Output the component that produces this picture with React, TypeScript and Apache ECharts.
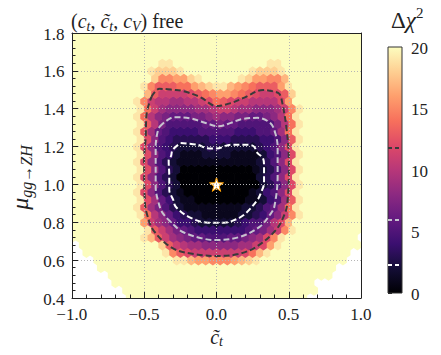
import React, { useEffect, useRef } from "react";
import * as echarts from "echarts";

// ---- data ------------------------------------------------------------------
// scan grid in c~_t (x) and mu_{gg->ZH} (y)
const ctStart = -1.0;
const ctStep = 0.05;
const ctCount = 41;
const muStart = 0.4;
const muStep = 0.04;
const muCount = 36;

// Delta chi^2 on the central columns c~_t = -0.60 ... 0.60 (25 columns),
// rows listed from mu = 1.80 (top) down to mu = 0.40 (bottom).
// 0-9 -> 0-9, a..k -> 10..20 (k = 20 or more). Cells outside the central columns are 20.
const dchi2RowsTopDown: string[] = [
  "kkkkk kkkkk kkkkk kkkkk kkkkk", // 1.80
  "kkkkk kkkkk kkkkk kkkkk kkkkk", // 1.76
  "kkkkk kkkkk kkkkk kkkkk kkkkk", // 1.72
  "kkkkk kkkkk kkkkk kkkkk kkkkk", // 1.68
  "kkkkj jkkkk kkkkk kkkkj jkkkk", // 1.64
  "kkkji iijkk kkkkk kkjii ijkkk", // 1.60
  "kkkif fggij kkkkk jiggf fhkkk", // 1.56
  "kkjfd ddeeg hijjh gfedd dgjkk", // 1.52
  "kkhdb bbbcd efggf edcbb cdikk", // 1.48
  "kjfba a99aa bcedc bbaaa acgkk", // 1.44
  "kjeb9 88889 9abba 99888 9bfjk", // 1.40
  "kjea8 76667 78988 77667 8aejk", // 1.36
  "kjda7 55555 66766 55555 7aejk", // 1.32
  "kjd96 54444 55555 44455 69ejk", // 1.28
  "kjc85 43333 34443 33344 58djk", // 1.24
  "kjc85 43222 23322 22234 58cjk", // 1.20
  "kjc85 42111 22221 11124 58cjk", // 1.16
  "kjc85 32111 11111 11123 58cjk", // 1.12
  "kjc85 32000 00000 00123 58cjk", // 1.08
  "kjc85 32000 00000 00023 58cjk", // 1.04
  "kjc85 32000 00000 00023 58cjk", // 1.00
  "kjc85 32100 00000 00124 58cjk", // 0.96
  "kjc96 42110 00000 01124 59djk", // 0.92
  "kjd97 53211 11111 12235 69ejk", // 0.88
  "kjea8 64322 11111 22346 8bfjk", // 0.84
  "kkgb9 86443 22222 34557 achkk", // 0.80
  "kkjdb 97654 44444 45679 bfjkk", // 0.76
  "kkjhd b9876 65556 6789c fjkkk", // 0.72
  "kkkki dba99 88888 99bcg jkkkk", // 0.68
  "kkkkk jfdcb bbbbb bcehj kkkkk", // 0.64
  "kkkkk kjjhg gfffg hijkk kkkkk", // 0.60
  "kkkkk kkkkk kkkkk kkkkk kkkkk", // 0.56
  "kkkkk kkkkk kkkkk kkkkk kkkkk", // 0.52
  "kkkkk kkkkk kkkkk kkkkk kkkkk", // 0.48
  "kkkkk kkkkk kkkkk kkkkk kkkkk", // 0.44
  "kkkkk kkkkk kkkkk kkkkk kkkkk", // 0.40
];
const centralFirstCol = 8; // column index of c~_t = -0.60

// cells without scan points (white corners), counted from the left / right edge,
// rows from mu = 0.40 upwards
const missingLeft = [8, 7, 6, 5, 4, 3, 2, 1];
const missingRight = [8, 7, 7, 5, 4, 3, 2, 1, 1];

// contour levels (1, 2, 3 sigma for 2 dof)
const levels = [2.3, 5.99, 11.83];
const contour1: number[][] = [
  [-0.248, 1.219], [-0.125, 1.208], [-0.069, 1.192], [0, 1.19], [0.1, 1.21], [0.195, 1.21],
  [0.255, 1.203], [0.284, 1.166], [0.322, 1.138], [0.329, 1.096], [0.329, 1.007], [0.31, 0.96],
  [0.284, 0.919], [0.188, 0.838], [0.1, 0.805], [0.054, 0.798], [-0.058, 0.798], [-0.193, 0.829],
  [-0.282, 0.882], [-0.3, 0.92], [-0.327, 0.971], [-0.327, 1.043], [-0.331, 1.129], [-0.315, 1.149],
  [-0.304, 1.182], [-0.248, 1.219],
];
const contour2: number[][] = [
  [-0.394, 1.305], [-0.349, 1.335], [-0.293, 1.355], [-0.181, 1.349], [-0.069, 1.323], [0.015, 1.307],
  [0.1, 1.325], [0.172, 1.344], [0.284, 1.352], [0.374, 1.323], [0.407, 1.27], [0.423, 1.199],
  [0.423, 1.041], [0.4, 0.882], [0.37, 0.84], [0.3, 0.777], [0.166, 0.724], [0, 0.706],
  [-0.1, 0.715], [-0.237, 0.75], [-0.3, 0.79], [-0.371, 0.847], [-0.4, 0.9], [-0.421, 0.988],
  [-0.421, 1.199], [-0.41, 1.27], [-0.394, 1.305],
];
const contour3: number[][] = [
  [-0.45, 1.463], [-0.396, 1.505], [-0.3, 1.5], [-0.235, 1.494], [-0.114, 1.462], [0, 1.414],
  [0.1, 1.43], [0.188, 1.457], [0.322, 1.499], [0.4, 1.49], [0.436, 1.478], [0.456, 1.428],
  [0.483, 1.305], [0.5, 1.15], [0.501, 1.076], [0.49, 0.9], [0.47, 0.84], [0.411, 0.759],
  [0.277, 0.671], [0.15, 0.632], [0, 0.622], [-0.15, 0.632], [-0.304, 0.663], [-0.438, 0.759],
  [-0.48, 0.84], [-0.495, 0.9], [-0.501, 1.129], [-0.49, 1.25], [-0.483, 1.376], [-0.45, 1.463],
];
const bestFit = [[0.0, 1.0]];

// tick labels
const xTickValues = [-1.0, -0.5, 0.0, 0.5, 1.0];
const yTickValues = [0.4, 0.6, 0.8, 1.0, 1.2, 1.4, 1.6, 1.8];
const cbarTickValues = [0, 5, 10, 15, 20];
const xRange = { min: -1, max: 1, interval: 0.5 };
const yRange = { min: 0.4, max: 1.8, interval: 0.2 };
const cbarRange = { min: 0, max: 20, interval: 5 };

// ---- styles ---------------------------------------------------------------
const FONT = "Liberation Serif";
const TXT = "#222222";
const magma = [
  "#000004", "#140e36", "#3b0f70", "#641a80", "#8c2981", "#b73779",
  "#de4968", "#f7705c", "#fe9f6d", "#fecf92", "#fcfdbf",
];
const levelColors = ["#ffffff", "#c6c3cf", "#3a3a3a"];

function decode(ch: string): number {
  if (ch >= "0" && ch <= "9") return ch.charCodeAt(0) - 48;
  return 10 + (ch.charCodeAt(0) - 97);
}

function buildCells(): number[][] {
  const rows = dchi2RowsTopDown.map((r) => r.replace(/\s+/g, "")).reverse();
  const cells: number[][] = [];
  for (let j = 0; j < muCount; j++) {
    const mu = muStart + muStep * j;
    const shift = j % 2 === 1 ? ctStep / 2 : 0;
    const ml = missingLeft[j] || 0;
    const mr = missingRight[j] || 0;
    for (let i = 0; i < ctCount; i++) {
      if (i < ml || i >= ctCount - mr) continue;
      const ct = ctStart + ctStep * i + shift;
      const k = i - centralFirstCol;
      const row = rows[j];
      const v = k >= 0 && k < row.length ? decode(row[k]) : 20;
      cells.push([ct, mu, v]);
    }
  }
  return cells;
}

const fmt1 = (v: number) => (v < -1e-9 ? "\u2212" : "") + Math.abs(v).toFixed(1);

const tok = (size: number, italic: boolean, lh: number, va?: string) => ({
  fontFamily: FONT,
  fontStyle: italic ? "italic" : "normal",
  fontWeight: "normal",
  fontSize: size,
  color: TXT,
  lineHeight: lh,
  ...(va ? { verticalAlign: va } : {}),
});

export default function App() {
  const ref = useRef<HTMLDivElement>(null);
  useEffect(() => {
    if (!ref.current) return;
    const chart = echarts.init(ref.current, null, { renderer: "svg" });
    const cells = buildCells();

    const mainAxisCommon = {
      z: 10,
      axisLine: { show: true, onZero: false, lineStyle: { color: TXT, width: 1 } },
      axisTick: { show: true, inside: true, length: 6, lineStyle: { color: TXT, width: 1 } },
      minorTick: { show: true, splitNumber: 5, length: 3.5, lineStyle: { color: TXT, width: 1 } },
      axisLabel: { show: false },
      splitLine: { show: true, lineStyle: { color: "#b5b5b5", width: 1, type: [1, 2] } },
    };

    const option: any = {
      animation: false,
      backgroundColor: "#ffffff",
      textStyle: { fontFamily: FONT },
      title: [
        {
          left: 66,
          top: 4,
          text: "{p|(}{i|c}{s|t}{p|, }{i|c\u0303}{s|t}{p|, }{i|c}{s|V}{p|) free}",
          textStyle: {
            fontFamily: FONT,
            fontWeight: "normal",
            rich: {
              p: tok(20, false, 24),
              i: tok(20, true, 24),
              s: tok(14, true, 11, "bottom"),
            },
          },
        },
        {
          left: 386,
          top: 0,
          text: "{p|\u0394}{i|\u03c7}{u|2}",
          textStyle: {
            fontFamily: FONT,
            fontWeight: "normal",
            rich: {
              p: tok(23, false, 30),
              i: tok(23, true, 30),
              u: tok(15, false, 15, "top"),
            },
          },
        },
      ],
      grid: [
        { left: 63, top: 33, width: 298, height: 265 },
        { left: 388, top: 47, width: 14, height: 246 },
      ],
      xAxis: [
        {
          ...mainAxisCommon,
          gridIndex: 0,
          type: "value",
          position: "bottom",
          min: xRange.min,
          max: xRange.max,
          interval: xRange.interval,
          name: "{i|c\u0303}{s|t}",
          nameLocation: "middle",
          nameGap: 28,
          nameTextStyle: {
            fontFamily: FONT,
            rich: { i: tok(20, true, 22), s: tok(14, true, 10, "bottom") },
          },
        },
        {
          gridIndex: 0,
          type: "value",
          position: "top",
          min: xRange.min,
          max: xRange.max,
          z: 10,
          axisLine: { show: true, onZero: false, lineStyle: { color: TXT, width: 1 } },
          axisTick: { show: false },
          axisLabel: { show: false },
          splitLine: { show: false },
        },
        { gridIndex: 1, type: "value", min: 0, max: 1, show: false },
      ],
      yAxis: [
        {
          ...mainAxisCommon,
          gridIndex: 0,
          type: "value",
          position: "left",
          min: yRange.min,
          max: yRange.max,
          interval: yRange.interval,
          name: "{i|\u03bc}{s|gg\u2192ZH}",
          nameLocation: "middle",
          nameGap: 38,
          nameRotate: 90,
          nameTextStyle: {
            fontFamily: FONT,
            padding: [0, 24, 0, 0],
            rich: { i: tok(24, true, 28), s: tok(16, true, 12, "bottom") },
          },
        },
        {
          gridIndex: 0,
          type: "value",
          position: "right",
          min: yRange.min,
          max: yRange.max,
          z: 10,
          axisLine: { show: true, onZero: false, lineStyle: { color: TXT, width: 1 } },
          axisTick: { show: false },
          axisLabel: { show: false },
          splitLine: { show: false },
        },
        {
          gridIndex: 1,
          type: "value",
          position: "right",
          min: cbarRange.min,
          max: cbarRange.max,
          interval: cbarRange.interval,
          axisLine: { show: false },
          axisTick: { show: true, inside: false, length: 4, lineStyle: { color: TXT } },
          axisLabel: { show: false },
          splitLine: { show: false },
        },
      ],
      visualMap: {
        type: "continuous",
        show: false,
        seriesIndex: 0,
        dimension: 2,
        min: 0,
        max: 20,
        inRange: { color: magma },
      },
      series: [
        {
          type: "custom",
          xAxisIndex: 0,
          yAxisIndex: 0,
          clip: true,
          z: 2,
          dimensions: ["ct", "mu", "dchi2"],
          encode: { x: 0, y: 1 },
          data: cells,
          renderItem: (params: any, api: any) => {
            const c = api.coord([api.value(0), api.value(1)]);
            const s = api.size([ctStep, muStep]);
            const hw = s[0] / 2 + 0.35;
            const R = s[1] / 1.5 + 0.35;
            return {
              type: "polygon",
              shape: {
                points: [
                  [c[0], c[1] - R],
                  [c[0] + hw, c[1] - R / 2],
                  [c[0] + hw, c[1] + R / 2],
                  [c[0], c[1] + R],
                  [c[0] - hw, c[1] + R / 2],
                  [c[0] - hw, c[1] - R / 2],
                ],
              },
              style: { fill: api.visual("color"), stroke: null },
            };
          },
        },
        ...[contour1, contour2, contour3].map((pts, k) => ({
          type: "line",
          xAxisIndex: 0,
          yAxisIndex: 0,
          z: 4,
          data: pts,
          smooth: 0.35,
          symbol: "none",
          showSymbol: false,
          lineStyle: { color: levelColors[k], width: 2, type: [6, 3] },
        })),
        {
          type: "scatter",
          xAxisIndex: 0,
          yAxisIndex: 0,
          z: 6,
          data: bestFit,
          symbol:
            "path://M50,0 L61,35 L98,35 L68,57 L79,91 L50,70 L21,91 L32,57 L2,35 L39,35 Z",
          symbolSize: 14,
          itemStyle: { color: "#ffffff", borderColor: "#ff9f00", borderWidth: 1, opacity: 1 },
        },
        {
          type: "custom",
          xAxisIndex: 2,
          yAxisIndex: 2,
          z: 2,
          data: [[0.5, 10]],
          renderItem: (params: any) => {
            const cs = params.coordSys;
            return {
              type: "rect",
              shape: { x: cs.x, y: cs.y, width: cs.width, height: cs.height },
              style: {
                fill: new echarts.graphic.LinearGradient(
                  0, 1, 0, 0,
                  magma.map((c, k) => ({ offset: k / (magma.length - 1), color: c }))
                ),
                stroke: "#333333",
                lineWidth: 1,
              },
            };
          },
          markLine: {
            silent: true,
            symbol: "none",
            label: { show: false },
            z: 5,
            data: levels.map((v, k) => ({
              yAxis: v,
              lineStyle: { color: levelColors[k], type: [4, 3], width: 2 },
            })),
          },
        },
      ],
    };
    chart.setOption(option);

    // tick labels placed through the axes' own scales
    const toPx = (xi: number, yi: number, pt: number[]) =>
      chart.convertToPixel({ xAxisIndex: xi, yAxisIndex: yi } as any, pt) as unknown as number[];
    const labelStyle = (text: string, align: string, va: string) => ({
      text: `{n|${text}}{e| }`,
      fill: TXT,
      fontFamily: FONT,
      fontSize: 17,
      align,
      verticalAlign: va,
      rich: {
        n: tok(17, false, 20),
        e: { fontFamily: FONT, fontSize: 2, lineHeight: 20 },
      },
    });
    const graphics: any[] = [];
    xTickValues.forEach((v) => {
      const p = toPx(0, 0, [v, yRange.min]);
      graphics.push({ type: "text", x: p[0], y: p[1] + 6, z: 20, silent: true, style: labelStyle(fmt1(v), "center", "top") });
    });
    yTickValues.forEach((v) => {
      const p = toPx(0, 0, [xRange.min, v]);
      graphics.push({ type: "text", x: p[0] - 7, y: p[1] + 1, z: 20, silent: true, style: labelStyle(fmt1(v), "right", "middle") });
    });
    cbarTickValues.forEach((v) => {
      const p = toPx(2, 2, [1, v]);
      graphics.push({ type: "text", x: p[0] + 9, y: p[1] + 1, z: 20, silent: true, style: labelStyle(String(v), "left", "middle") });
    });
    chart.setOption({ graphic: graphics });

    return () => chart.dispose();
  }, []);
  return (
    <div
      ref={ref}
      style={{ position: "fixed", left: 0, top: 0, width: 441, height: 355, background: "#fff" }}
    />
  );
}
